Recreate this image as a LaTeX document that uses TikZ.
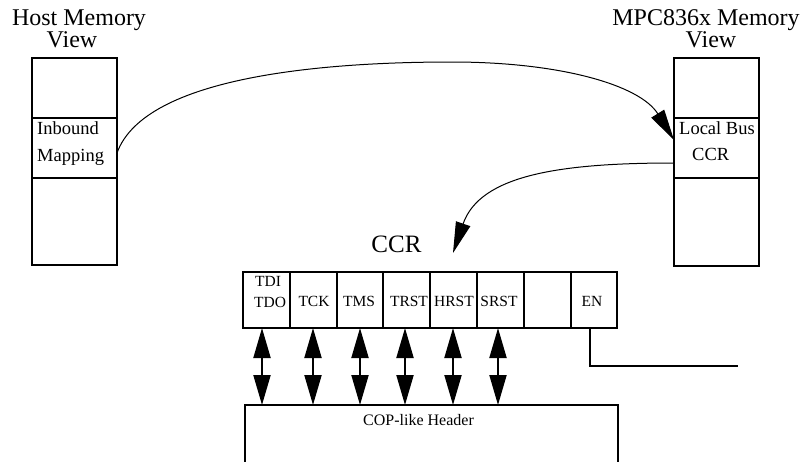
\documentclass[tikz,border=0pt]{standalone}
\usepackage{fontspec}
\setmainfont{Liberation Serif}
\usetikzlibrary{arrows.meta}
\begin{document}
\begin{tikzpicture}[x=1pt,y=-1pt,
  memcell/.style={draw, line width=1.8pt, minimum width=85pt, inner sep=0pt, outer sep=0pt, anchor=north west},
  memframe/.style={line width=2.6pt},
  regcell/.style={draw, line width=2pt, minimum height=56pt, inner sep=0pt, outer sep=0pt, anchor=north west},
  title/.style={font=\fontsize{24}{28}\selectfont, inner sep=0pt},
  lbl/.style={font=\fontsize{18.5}{21}\selectfont, inner sep=0pt, anchor=base west},
  cell/.style={font=\fontsize{15.5}{18}\selectfont, inner sep=0pt, anchor=base},
  conn/.style={line width=1pt, -{Triangle[length=31pt,width=15pt]}},
  bus/.style={line width=2pt, {Triangle[length=30pt,width=17pt]}-{Triangle[length=30pt,width=17pt]}},
  wire/.style={line width=2pt}]
\useasboundingbox (0,0) rectangle (811,461);

% Host memory view
\node[title, anchor=base] (ht1) at (79,25) {Host Memory};
\node[title, anchor=base] (ht2) at (72,47) {View};
\node[memcell, minimum height=60pt] (hA) at (32,58) {};
\node[memcell, minimum height=60pt] (hB) at (hA.south west) {};
\node[memcell, minimum height=87pt] (hC) at (hB.south west) {};
\draw[memframe] (hA.north west) rectangle (hC.south east);
\node[lbl] (hl1) at (37,134) {Inbound};
\node[lbl] (hl2) at (37,161) {Mapping};

% MPC836x memory view
\node[title, anchor=base] (mt1) at (706,25) {MPC836x Memory};
\node[title, anchor=base] (mt2) at (711,47) {View};
\node[memcell, minimum height=60pt] (mA) at (674,58) {};
\node[memcell, minimum height=60pt] (mB) at (mA.south west) {};
\node[memcell, minimum height=88pt] (mC) at (mB.south west) {};
\draw[memframe] (mA.north west) rectangle (mC.south east);
\node[lbl] (ml1) at (679,134) {Local Bus};
\node[lbl] (ml2) at (692,160) {CCR};

% Mapping arc
\coordinate (s1) at (117,153);
\coordinate (e1) at (674,140);
\draw[conn] (s1) .. controls (145,75) and (330,62) .. (452,62)
  .. controls (560,62) and (640,85) .. (e1);

% CCR arc
\coordinate (s2) at (674,163);
\coordinate (e2) at (453,253);
\draw[conn] (s2) .. controls (560,163) and (480,175) .. (e2);

% CCR register
\node[font=\fontsize{25}{29}\selectfont, inner sep=0pt, anchor=base] (ccr) at (396.5,252) {CCR};
\node[regcell, minimum width=47pt] (c1) at (243,272) {};
\node[regcell, minimum width=47pt] (c2) at (c1.north east) {};
\node[regcell, minimum width=46pt] (c3) at (c2.north east) {};
\node[regcell, minimum width=47pt] (c4) at (c3.north east) {};
\node[regcell, minimum width=47pt] (c5) at (c4.north east) {};
\node[regcell, minimum width=47pt] (c6) at (c5.north east) {};
\node[regcell, minimum width=47pt] (c7) at (c6.north east) {};
\node[regcell, minimum width=46pt] (c8) at (c7.north east) {};

\node[cell, anchor=base west] (t1a) at (255,286) {TDI};
\node[cell, anchor=base west] (t1b) at (254,307) {TDO};
\node[cell] (t2) at (314,306) {TCK};
\node[cell] (t3) at (359,306) {TMS};
\node[cell] (t4) at (409,306) {TRST};
\node[cell] (t5) at (454,306) {HRST};
\node[cell] (t6) at (499,306) {SRST};
\node[cell] (t8) at (592,306) {EN};

% COP-like header (open at the bottom)
\node[minimum width=373pt, minimum height=70pt, inner sep=0pt, outer sep=0pt, anchor=north west] (hdr) at (245,405) {};
\draw[wire] (hdr.south west) -- (hdr.north west) -- (hdr.north east) -- (hdr.south east);
\node[font=\fontsize{16}{19}\selectfont, inner sep=0pt, anchor=base west] (hdrt) at (363,425.5) {COP-like Header};

% Bidirectional signals
\foreach \i/\x in {1/262,2/313,3/360,4/405,5/453,6/498}{
  \coordinate (b\i) at (\x,328);
  \draw[bus] (b\i) -- (b\i |- hdr.north);
}

% EN output
\coordinate (enout) at (590,328);
\coordinate (enend) at (738,366);
\draw[wire] (enout) |- (enend);
\end{tikzpicture}
\end{document}
